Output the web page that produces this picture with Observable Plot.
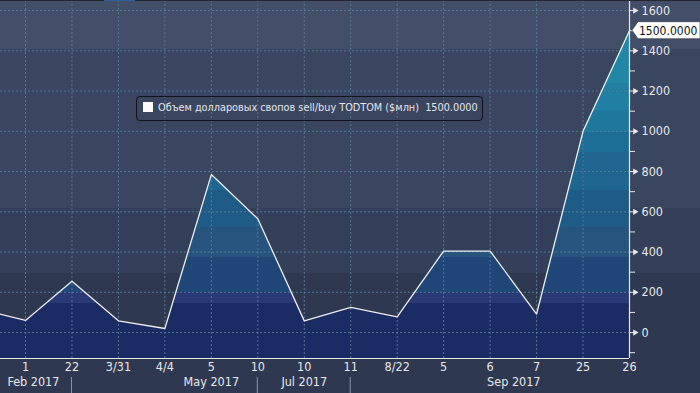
<!DOCTYPE html>
<html><head><meta charset="utf-8">
<script src="https://cdn.jsdelivr.net/npm/d3@7"></script>
<script src="https://cdn.jsdelivr.net/npm/@observablehq/plot@0.6"></script>
<style>
html,body{margin:0;padding:0;}
body{width:700px;height:393px;overflow:hidden;
background:linear-gradient(to bottom,#434e68 0px,#434e68 49px,#3a4560 49px,#3a4560 208px,#343f59 208px,#343f59 273px,#2e3951 273px,#2e3951 393px);}
#wrap{position:relative;width:700px;height:393px;}
#topstrip{position:absolute;left:0;top:0;width:700px;height:1px;background:#23272f;}
#toptab{position:absolute;left:104px;top:0;width:31px;height:1px;background:#2c5f9c;}
#legend{position:absolute;left:136px;top:96px;width:347px;height:25px;border:1.5px solid #0f131c;border-radius:4px;box-sizing:border-box;
font-family:"DejaVu Sans Condensed","DejaVu Sans",sans-serif;font-size:10.8px;color:#e4e6ea;white-space:pre;line-height:22px;padding-left:6px;}
#legend .sw{display:inline-block;width:10px;height:10px;background:#fbfbfd;vertical-align:-1px;margin-right:5px;}
</style></head>
<body><div id="wrap"><div id="chart"></div>
<div id="legend"><span class="sw"></span><span id="legtext"></span></div>
<div id="topstrip"></div><div id="toptab"></div></div>
<script>
// ---- data ----
const tickLabels = ["1","22","3/31","4/4","5","10","10","11","8/22","5","6","7","25","26"];
const values = [60, 255, 58, 20, 785, 565, 58, 125, 78, 405, 405, 92, 1000, 1500];
const priorValue = 118; // point before the first label, cut off at the left edge
const groupLabels = ["Feb 2017","May 2017","Jul 2017","Sep 2017"];
const groupPos = [0.17, 4, 6, 10.51];
const separatorIdx = [1, 5, 7];
const seriesName = "Объем долларовых свопов sell/buy TODTOM ($млн)";
const yTicksMajor = d3.range(0, 1601, 200);
const yTicksMinor = d3.range(-100, 1601, 100);
const lastValueText = "1500.0000";

// ---- styles ----
const bandEdges = [144, 199, 373, 522, 706, 895, 994, 1103, 1238, 1392];
const bandColors = ["#1b2b63","#2a3a77","#1e4677","#27547f","#1f5b87","#1e6590","#1d6e96","#1e789e","#217fa3","#2286a6","#2189a9"];

const data = [{i:-1, v:priorValue}, ...values.map((v,i)=>({i, v}))];
const yMin = -129, yMax = 1650;
const xMin = -0.538, xMax = 13;
const txt = "#e8e8e8";

document.getElementById("legtext").textContent = seriesName + "  " + lastValueText;

const plot = Plot.plot({
  width:700, height:393, marginLeft:0, marginRight:71, marginTop:0, marginBottom:35,
  style:{background:"transparent", fontFamily:"'DejaVu Sans Condensed','DejaVu Sans',sans-serif", fontSize:"12.5px", color:txt, overflow:"visible"},
  x:{type:"linear", domain:[xMin, xMax]},
  y:{domain:[yMin, yMax]},
  marks:[
    Plot.areaY(data, {x:"i", y1:yMin, y2:"v", fill:"url(#bandfill)", clip:true}),
    Plot.gridX(d3.range(0, tickLabels.length), {stroke:"#5a7b9a", strokeOpacity:0.9, strokeDasharray:"2,2"}),
    Plot.gridY(yTicksMajor, {stroke:"#5a7b9a", strokeOpacity:0.9, strokeDasharray:"2,2"}),
    Plot.line(data, {x:"i", y:"v", stroke:"#eeeeee", strokeWidth:1.3, clip:true}),
    Plot.ruleX([xMax], {stroke:txt, strokeWidth:1.2}),
    Plot.ruleY([yMin], {stroke:txt, strokeWidth:1.2}),
    Plot.axisX(d3.range(0, tickLabels.length), {tickFormat:i=>tickLabels[i], tickSize:0, tickPadding:4, label:null, fill:txt, fontSize:12.5}),
    Plot.axisY(yTicksMinor, {anchor:"right", tickSize:5, tickFormat:()=>"", label:null, stroke:txt}),
    Plot.axisY(yTicksMajor, {anchor:"right", tickSize:0, tickPadding:12, label:null, fill:txt, fontSize:12.5, tickFormat:d=>String(d)}),
    Plot.dotY(yTicksMajor, {y:d=>d, frameAnchor:"right", dx:5.5, symbol:"triangle", rotate:90, r:2.3, fill:txt}),
    Plot.text(groupLabels, {x:groupPos, text:d=>d, frameAnchor:"bottom", dy:27.5, fill:txt, fontSize:12.5})
  ]
});
document.getElementById("chart").appendChild(plot);

const svg = d3.select(plot);
const sx = plot.scale("x"), sy = plot.scale("y");
// banded fill gradient, positioned with the y scale
const grad = svg.insert("defs", ":first-child").append("linearGradient")
  .attr("id","bandfill").attr("gradientUnits","userSpaceOnUse")
  .attr("x1",0).attr("x2",0).attr("y1",sy.apply(yMin)).attr("y2",sy.apply(yMax));
const off = v => (v - yMin) / (yMax - yMin);
const edges = [yMin, ...bandEdges, yMax];
for (let k = 0; k < bandColors.length; k++) {
  grad.append("stop").attr("offset", off(edges[k])).attr("stop-color", bandColors[k]);
  grad.append("stop").attr("offset", off(edges[k+1])).attr("stop-color", bandColors[k]);
}
// group separators
const H = 393;
svg.append("g").selectAll("line").data(separatorIdx).join("line")
  .attr("x1", d=>sx.apply(d)).attr("x2", d=>sx.apply(d))
  .attr("y1", H-16).attr("y2", H).attr("stroke","#8d95a8").attr("stroke-width",1);
// last value tag
const lx = sx.apply(xMax) + 3, ly = sy.apply(values[values.length-1]);
const tag = svg.append("g");
tag.append("path").attr("d", `M${lx},${ly} L${lx+6},${ly-8.5} L700,${ly-8.5} L700,${ly+8.5} L${lx+6},${ly+8.5} Z`)
  .attr("fill","#ffffff").attr("stroke","#2a2f3a").attr("stroke-width",0.6);
tag.append("text").attr("x", lx+7).attr("y", ly).attr("dy","0.36em").attr("text-anchor","start")
  .attr("fill","#111").attr("font-size","12px").text(lastValueText);
</script></body></html>
